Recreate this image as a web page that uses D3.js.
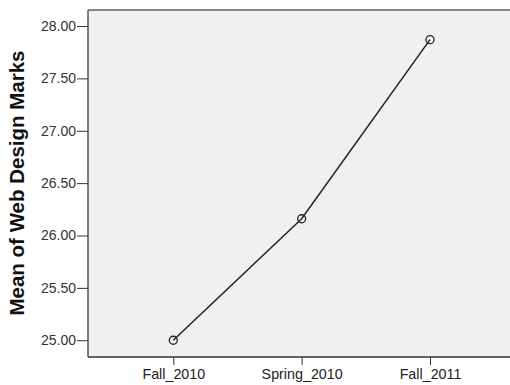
<!DOCTYPE html>
<html><head><meta charset="utf-8">
<script src="https://cdn.jsdelivr.net/npm/d3@7"></script>
<style>body{margin:0;background:#fff}svg{display:block}</style>
</head><body>
<svg id="c" width="510" height="385"></svg>
<script>
const categories = ["Fall_2010", "Spring_2010", "Fall_2011"];
const means = [25.00, 26.16, 27.87];
const yTicks = [25.00, 25.50, 26.00, 26.50, 27.00, 27.50, 28.00];
const yLabel = "Mean of Web Design Marks";

const svg = d3.select("#c");
const L = 88, R = 512, T = 10, B = 357;
const y = d3.scaleLinear().domain([24.84, 28.153]).range([B, T]);
const x = d3.scalePoint().domain(categories).range([173.3, 430]);
const font = "'Liberation Sans', Arial, sans-serif";

svg.append("rect").attr("x", L).attr("y", T).attr("width", R - L).attr("height", B - T)
  .attr("fill", "#f0f0f0");
svg.append("line").attr("x1", L).attr("x2", R).attr("y1", T).attr("y2", T)
  .attr("stroke", "#888").attr("stroke-width", 2);
svg.append("line").attr("x1", L).attr("x2", L).attr("y1", T).attr("y2", B)
  .attr("stroke", "#555").attr("stroke-width", 1.5);
svg.append("line").attr("x1", L).attr("x2", R).attr("y1", B).attr("y2", B)
  .attr("stroke", "#333").attr("stroke-width", 1.5);

const yAxis = svg.append("g").attr("transform", `translate(${L},0)`)
  .call(d3.axisLeft(y).tickValues(yTicks).tickFormat(d3.format(".2f")).tickSize(11).tickPadding(1));
yAxis.select(".domain").remove();
yAxis.selectAll("line").attr("stroke", "#333");
yAxis.selectAll("text").attr("fill", "#333").style("font-family", font).style("font-size", "14px");

const xAxis = svg.append("g").attr("transform", `translate(0,${B})`)
  .call(d3.axisBottom(x).tickSize(8).tickPadding(4));
xAxis.select(".domain").remove();
xAxis.selectAll("line").attr("stroke", "#333");
xAxis.selectAll("text").attr("fill", "#222").style("font-family", font).style("font-size", "14.3px");

svg.append("text").attr("transform", "translate(24,183) rotate(-90)")
  .attr("text-anchor", "middle").attr("fill", "#111")
  .style("font-family", font).style("font-size", "20.5px").style("font-weight", "bold")
  .text(yLabel);

const data = categories.map((c, i) => ({c, v: means[i]}));
svg.append("path").datum(data)
  .attr("d", d3.line().x(d => x(d.c)).y(d => y(d.v)))
  .attr("fill", "none").attr("stroke", "#222").attr("stroke-width", 1.5);
svg.selectAll("circle.pt").data(data).join("circle").attr("class", "pt")
  .attr("cx", d => x(d.c)).attr("cy", d => y(d.v)).attr("r", 4)
  .attr("fill", "none").attr("stroke", "#222").attr("stroke-width", 1.3);
</script>
</body></html>
